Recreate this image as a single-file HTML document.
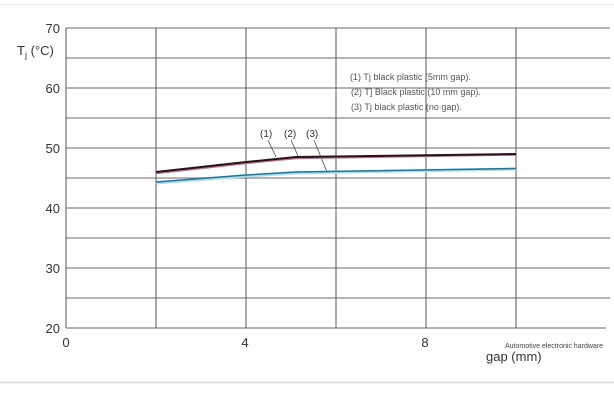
<!DOCTYPE html>
<html><head><style>
body{margin:0;background:#fff;width:614px;height:404px;overflow:hidden}
</style></head><body>
<svg width="614" height="404" xmlns="http://www.w3.org/2000/svg" font-family="Liberation Sans, sans-serif">
<line x1="0" y1="4.5" x2="614" y2="4.5" stroke="#e6e6e6"/>
<line x1="0" y1="382.5" x2="614" y2="382.5" stroke="#e0e0e0" stroke-width="2"/>
<g stroke="#888" stroke-width="1.3">
<line x1="66" y1="28" x2="610" y2="28"/>
<line x1="66" y1="58" x2="610" y2="58"/>
<line x1="66" y1="88" x2="610" y2="88"/>
<line x1="66" y1="118" x2="610" y2="118"/>
<line x1="66" y1="148" x2="610" y2="148"/>
<line x1="66" y1="178" x2="610" y2="178"/>
<line x1="66" y1="208" x2="610" y2="208"/>
<line x1="66" y1="238" x2="610" y2="238"/>
<line x1="66" y1="268" x2="610" y2="268"/>
<line x1="66" y1="298" x2="610" y2="298"/>
<line x1="66" y1="328" x2="606" y2="328"/>
</g>
<g stroke="#555" stroke-width="1">
<line x1="66" y1="28" x2="66" y2="328"/>
<line x1="156" y1="28" x2="156" y2="328"/>
<line x1="246" y1="28" x2="246" y2="328"/>
<line x1="336" y1="28" x2="336" y2="328"/>
<line x1="426" y1="28" x2="426" y2="328"/>
<line x1="516" y1="28" x2="516" y2="328"/>
</g>
<g fill="#333" font-size="13" text-anchor="end">
<text x="60" y="33">70</text><text x="60" y="93">60</text><text x="60" y="153">50</text>
<text x="60" y="213">40</text><text x="60" y="273">30</text><text x="60" y="333">20</text>
</g>
<g fill="#333" font-size="13" text-anchor="middle">
<text x="66" y="347">0</text><text x="245" y="347">4</text><text x="425" y="347">8</text>
</g>
<text x="17" y="55" font-size="13" fill="#333">T<tspan font-size="9" dy="3">j</tspan><tspan dy="-3"> (°C)</tspan></text>
<text x="486" y="361" font-size="13" fill="#333">gap (mm)</text>
<text x="505" y="348" font-size="7" fill="#444">Automotive electronic hardware</text>
<g font-size="9" fill="#555">
<text x="350" y="80">(1) Tj black plastic (5mm gap).</text>
<text x="351" y="95">(2) T] Black plastic (10 mm gap).</text>
<text x="351" y="110">(3) Tj black plastic (no gap).</text>
</g>
<g font-size="10" fill="#333">
<text x="260" y="137">(1)</text><text x="284" y="137">(2)</text><text x="306" y="137">(3)</text>
</g>
<g stroke="#444" stroke-width="0.8">
<line x1="268" y1="140" x2="276" y2="157"/>
<line x1="291" y1="140" x2="298" y2="156"/>
<line x1="314" y1="140" x2="327" y2="172"/>
</g>
<polyline points="156,183 246,176 296,173 516,169" fill="none" stroke="#9fe3f5" stroke-width="3"/>
<polyline points="156,182 246,175 296,172 516,168.5" fill="none" stroke="#2a6f8f" stroke-width="1.5"/>
<polyline points="156,173 246,163 296,158 516,154.5" fill="none" stroke="#c07080" stroke-width="2.4"/>
<polyline points="156,172 246,162 296,157 516,154" fill="none" stroke="#221518" stroke-width="2"/>
</svg>
</body></html>
